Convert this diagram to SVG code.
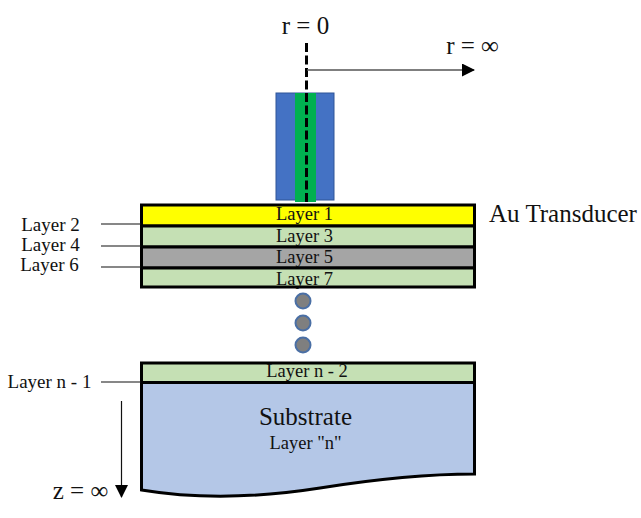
<svg xmlns="http://www.w3.org/2000/svg" width="641" height="518" viewBox="0 0 641 518">
<style>
text{font-family:"Liberation Serif","Times New Roman",serif;fill:#111;text-anchor:middle}
.s{font-size:18.500px}
.m{font-size:19px}
.l{font-size:25px}
.layer{stroke:#000;stroke-width:3}
.lead{stroke:#111;stroke-width:1.200;fill:none}
.dot{fill:#7f7f7f;stroke:#4a6fa5;stroke-width:2}
</style>
<defs>
<marker id="ah" markerUnits="userSpaceOnUse" markerWidth="13" markerHeight="13" refX="12" refY="6.500" orient="auto"><path d="M0 0L13 6.500L0 13Z" fill="#000"/></marker>
</defs>
<g id="probe">
<rect x="276" y="93" width="58" height="107" fill="#4472c4" stroke="#2f5597" stroke-width="1"/>
<rect x="295" y="93" width="21" height="109" fill="#00b050"/>
</g>
<g id="layer-1"><rect class="layer" x="141.500" y="205" width="333" height="21" fill="#ffff00"/><text class="s" x="304.500" y="220">Layer 1</text></g>
<g id="layer-3"><rect class="layer" x="141.500" y="226" width="333" height="21" fill="#c5e0b4"/><text class="s" x="304.500" y="242">Layer 3</text></g>
<g id="layer-5"><rect class="layer" x="141.500" y="247" width="333" height="21" fill="#a5a5a5"/><text class="s" x="304.500" y="263">Layer 5</text></g>
<g id="layer-7"><rect class="layer" x="141.500" y="268" width="333" height="19" fill="#c5e0b4"/><text class="s" x="304.500" y="285">Layer 7</text></g>
<g id="dots">
<circle class="dot" cx="303" cy="301" r="7.500"/>
<circle class="dot" cx="303" cy="323" r="7.500"/>
<circle class="dot" cx="303" cy="345" r="7.500"/>
</g>
<g id="layer-n-2"><rect class="layer" x="141.500" y="363" width="333" height="19.500" fill="#c5e0b4"/><text class="s" x="307" y="377">Layer n - 2</text></g>
<g id="substrate">
<path class="layer" d="M141.500 382.500H474.500V474C420 474 370 480 320 488C250 499 190 498 141.500 490Z" fill="#b4c7e7"/>
<text class="l" x="305.500" y="425">Substrate</text>
<text class="s" x="305.500" y="449">Layer "n"</text>
</g>
<g id="connectors">
<line x1="306.500" y1="43" x2="306.500" y2="204" stroke="#000" stroke-width="3" stroke-dasharray="9 3.500"/>
<line x1="307" y1="70" x2="474" y2="70" stroke="#555" stroke-width="1.500" marker-end="url(#ah)"/>
<line class="lead" x1="101" y1="224" x2="141" y2="224"/>
<line class="lead" x1="101" y1="246" x2="141" y2="246"/>
<line class="lead" x1="101" y1="267" x2="141" y2="267"/>
<line class="lead" x1="101" y1="382" x2="141" y2="382"/>
<line x1="121.500" y1="401" x2="121.500" y2="497" stroke="#111" stroke-width="1.200" marker-end="url(#ah)"/>
</g>
<g id="labels">
<text class="l" x="305.500" y="34">r = 0</text>
<text class="l" x="472.500" y="54">r = ∞</text>
<text class="l" x="563" y="222">Au Transducer</text>
<text class="m" x="50.500" y="231">Layer 2</text>
<text class="m" x="50.500" y="251">Layer 4</text>
<text class="m" x="49.500" y="271">Layer 6</text>
<text class="m" x="49.500" y="388">Layer n - 1</text>
<text class="l" x="80.500" y="499">z = ∞</text>
</g>
</svg>
